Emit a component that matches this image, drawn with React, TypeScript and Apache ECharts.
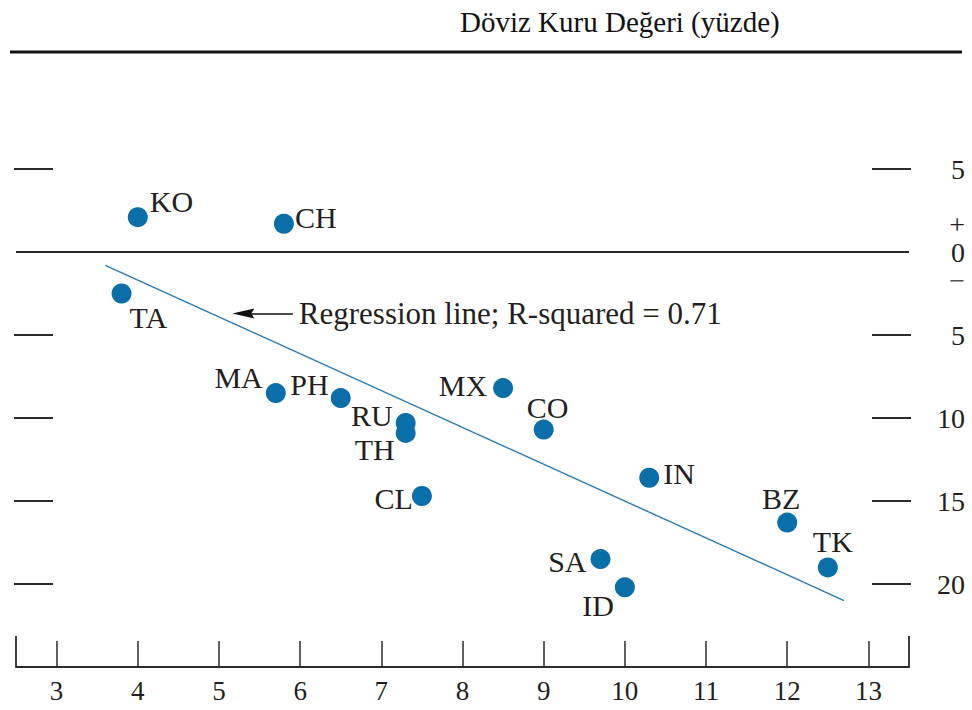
import React, { useEffect, useRef } from "react";
import * as echarts from "echarts";

// ---- Data ----
const countries = ["KO", "CH", "TA", "MA", "PH", "RU", "TH", "CL", "MX", "CO", "IN", "SA", "ID", "BZ", "TK"];
const xValues = [4.0, 5.8, 3.8, 5.7, 6.5, 7.3, 7.3, 7.5, 8.5, 9.0, 10.3, 9.7, 10.0, 12.0, 12.5];
const yValues = [2.1, 1.7, -2.5, -8.5, -8.8, -10.3, -10.9, -14.7, -8.2, -10.7, -13.6, -18.5, -20.2, -16.3, -19.0];
const regressionX = [3.6, 12.7];
const regressionY = [-0.8, -21.0];
const arrowX = [5.91, 5.3];
const arrowY = [-3.71, -3.71];
const xTickValues = [3, 4, 5, 6, 7, 8, 9, 10, 11, 12, 13];
const yTickValues = [-20, -15, -10, -5, 5];
const yLabelValues = [-20, -15, -10, -5, 0, 5];
const titleText = "Döviz Kuru Değeri (yüzde)";
const regressionText = "Regression line; R-squared = 0.71";

// ---- Label layout (style only) ----
const labelLayout: Record<string, { align: string; dx: number; dy: number }> = {
  KO: { align: "left", dx: 12, dy: -16 },
  CH: { align: "left", dx: 11, dy: -6 },
  TA: { align: "left", dx: 8, dy: 24 },
  MA: { align: "right", dx: -13, dy: -16 },
  PH: { align: "right", dx: -12, dy: -14 },
  RU: { align: "right", dx: -13, dy: -7 },
  TH: { align: "right", dx: -11, dy: 17 },
  CL: { align: "right", dx: -9, dy: 2 },
  MX: { align: "right", dx: -16, dy: -3 },
  CO: { align: "center", dx: 4, dy: -22 },
  IN: { align: "left", dx: 14, dy: -4 },
  SA: { align: "right", dx: -14, dy: 2 },
  ID: { align: "right", dx: -11, dy: 18 },
  BZ: { align: "center", dx: -6, dy: -24 },
  TK: { align: "center", dx: 5, dy: -26 },
};

const FONT = "'Liberation Serif', 'Times New Roman', serif";
const TEXT = "#231f20";
const LINE = "#2b2b2b";
const DOT = "#0a6ea8";

export default function App() {
  const ref = useRef<HTMLDivElement>(null);

  useEffect(() => {
    document.body.style.margin = "0";
    if (!ref.current) return;
    const chart = echarts.init(ref.current, undefined, { renderer: "svg" });

    const scatterData = countries.map((c, i) => {
      const l = labelLayout[c];
      return {
        name: c,
        value: [xValues[i], yValues[i]],
        label: {
          show: true,
          formatter: c,
          position: "inside",
          align: l.align,
          verticalAlign: "middle",
          offset: [l.dx, l.dy],
          color: TEXT,
          fontFamily: FONT,
          fontSize: 30,
          lineHeight: 26,
        },
      };
    });

    const yAxisCommon = {
      type: "value",
      min: -25,
      max: 10,
      interval: 5,
      splitLine: { show: false },
      axisLine: { show: false },
    };

    chart.setOption({
      animation: false,
      backgroundColor: "#ffffff",
      title: {
        text: titleText,
        left: 460,
        top: 7,
        padding: 0,
        textStyle: { fontFamily: FONT, fontSize: 29, fontWeight: "normal", color: "#111" },
      },
      grid: { left: 16, right: 63, top: 86, bottom: 43 },
      xAxis: [
        {
          type: "value",
          min: 2.5,
          max: 13.5,
          position: "bottom",
          splitLine: { show: false },
          axisLine: { show: true, onZero: false, lineStyle: { color: LINE, width: 2 } },
          axisTick: {
            show: true,
            inside: true,
            length: 26,
            customValues: xTickValues,
            lineStyle: { color: LINE, width: 1.5 },
          },
          axisLabel: {
            show: true,
            customValues: xTickValues,
            margin: 10,
            color: TEXT,
            fontFamily: FONT,
            fontSize: 27,
          },
        },
        {
          type: "value",
          min: 2.5,
          max: 13.5,
          position: "bottom",
          splitLine: { show: false },
          axisLine: { show: false, onZero: false },
          axisTick: {
            show: true,
            inside: true,
            length: 31,
            customValues: [2.5, 13.5],
            lineStyle: { color: LINE, width: 1.8 },
          },
          axisLabel: { show: false },
        },
      ],
      yAxis: [
        {
          ...yAxisCommon,
          position: "left",
          offset: 2,
          axisTick: {
            show: true,
            inside: true,
            length: 39,
            customValues: yTickValues,
            lineStyle: { color: LINE, width: 1.8 },
          },
          axisLabel: { show: false },
        },
        {
          ...yAxisCommon,
          position: "right",
          offset: 2,
          axisTick: {
            show: true,
            inside: true,
            length: 39,
            customValues: yTickValues,
            lineStyle: { color: LINE, width: 1.8 },
          },
          axisLabel: {
            show: true,
            customValues: yLabelValues,
            formatter: (v: number) => (v === 0 ? "{p|+}\n{z|0}\n{m|−}" : String(Math.abs(v))),
            align: "right",
            margin: 54,
            color: TEXT,
            fontFamily: FONT,
            fontSize: 28,
            rich: {
              p: { fontFamily: FONT, fontSize: 28, lineHeight: 32, color: TEXT, align: "right" },
              z: { fontFamily: FONT, fontSize: 28, lineHeight: 24, color: TEXT, align: "right" },
              m: { fontFamily: FONT, fontSize: 28, lineHeight: 32, color: "#555", align: "right" },
            },
          },
        },
      ],
      graphic: [
        {
          type: "line",
          shape: { x1: 10, y1: 52, x2: 962, y2: 52 },
          style: { stroke: "#111", lineWidth: 3 },
        },
      ],
      series: [
        {
          type: "line",
          xAxisIndex: 0,
          yAxisIndex: 0,
          data: regressionX.map((x, i) => [x, regressionY[i]]),
          showSymbol: false,
          symbol: "none",
          lineStyle: { color: "#2a7ab3", width: 1.4 },
          z: 2,
          markLine: {
            silent: true,
            animation: false,
            symbol: ["none", "none"],
            data: [
              [
                { coord: [arrowX[0], arrowY[0]], symbol: "none" },
                {
                  coord: [arrowX[1], arrowY[1]],
                  symbol: "path://M5,0 L10,22 L5,19 L0,22 Z",
                  symbolSize: [10, 22],
                },
              ],
            ],
            lineStyle: { color: "#111", width: 1.5, type: "solid" },
            label: {
              show: true,
              position: "start",
              distance: 6,
              formatter: regressionText,
              color: TEXT,
              fontFamily: FONT,
              fontSize: 31,
            },
          },
        },
        {
          type: "scatter",
          xAxisIndex: 0,
          yAxisIndex: 0,
          symbol: "circle",
          symbolSize: 20,
          itemStyle: { color: DOT, opacity: 1 },
          data: scatterData,
          z: 3,
          markLine: {
            silent: true,
            animation: false,
            symbol: ["none", "none"],
            label: { show: false },
            lineStyle: { color: LINE, width: 2, type: "solid" },
            data: [{ yAxis: 0 }],
          },
        },
      ],
    });

    return () => chart.dispose();
  }, []);

  return <div ref={ref} style={{ width: 972, height: 710 }} />;
}
